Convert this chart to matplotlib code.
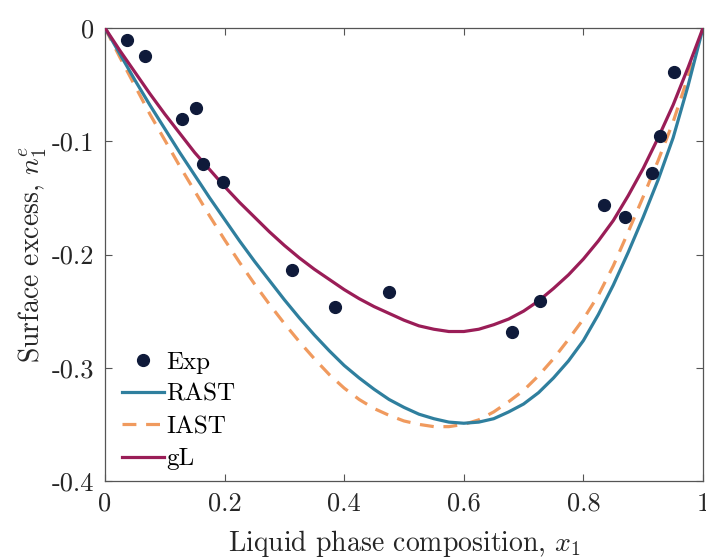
import matplotlib
matplotlib.use("Agg")
import matplotlib.pyplot as plt

##########################
# Data
##########################
exp_x = [0.037, 0.067, 0.128, 0.153, 0.164, 0.197, 0.312, 0.385, 0.475,
         0.680, 0.727, 0.835, 0.870, 0.915, 0.928, 0.952]
exp_y = [-0.011, -0.025, -0.080, -0.071, -0.120, -0.136, -0.214, -0.246, -0.233,
         -0.268, -0.241, -0.156, -0.167, -0.128, -0.095, -0.039]

model_x = [0.0, 0.025, 0.05, 0.075, 0.1, 0.125, 0.15, 0.175, 0.2, 0.225,
           0.25, 0.275, 0.3, 0.325, 0.35, 0.375, 0.4, 0.425, 0.45, 0.475,
           0.5, 0.525, 0.55, 0.575, 0.6, 0.625, 0.65, 0.675, 0.7, 0.725,
           0.75, 0.775, 0.8, 0.825, 0.85, 0.875, 0.9, 0.925, 0.95, 0.975, 1.0]
rast_y = [0.0, -0.023, -0.046, -0.068, -0.089, -0.110, -0.130, -0.150, -0.169, -0.188,
          -0.206, -0.223, -0.240, -0.256, -0.271, -0.285, -0.298, -0.309, -0.319, -0.328,
          -0.335, -0.341, -0.345, -0.348, -0.349, -0.348, -0.345, -0.339, -0.332, -0.322,
          -0.309, -0.294, -0.276, -0.253, -0.227, -0.198, -0.167, -0.134, -0.097, -0.051, 0.0]
iast_y = [0.0, -0.026, -0.051, -0.076, -0.099, -0.122, -0.144, -0.166, -0.187, -0.207,
          -0.226, -0.244, -0.261, -0.277, -0.292, -0.306, -0.318, -0.328, -0.336, -0.342,
          -0.347, -0.350, -0.352, -0.352, -0.350, -0.346, -0.339, -0.330, -0.320, -0.307,
          -0.292, -0.275, -0.257, -0.236, -0.210, -0.180, -0.149, -0.117, -0.083, -0.043, 0.0]
gl_y = [0.0, -0.020, -0.039, -0.058, -0.076, -0.093, -0.110, -0.125, -0.140, -0.154,
        -0.167, -0.180, -0.192, -0.203, -0.213, -0.222, -0.231, -0.239, -0.246, -0.252,
        -0.258, -0.263, -0.266, -0.268, -0.268, -0.266, -0.262, -0.257, -0.250, -0.241,
        -0.230, -0.218, -0.204, -0.188, -0.170, -0.148, -0.124, -0.097, -0.068, -0.035, 0.0]

x_ticks = [0, 0.2, 0.4, 0.6, 0.8, 1]
x_ticklabels = ["0", "0.2", "0.4", "0.6", "0.8", "1"]
y_ticks = [-0.4, -0.3, -0.2, -0.1, 0]
y_ticklabels = ["-0.4", "-0.3", "-0.2", "-0.1", "0"]

# colours
c_exp = "#0f1a3a"
c_rast = "#2f7f9e"
c_iast = "#f09a5e"
c_gl = "#9a1d57"

plt.rcParams["font.family"] = "serif"
plt.rcParams["font.serif"] = ["cmr10"]
plt.rcParams["mathtext.fontset"] = "cm"
plt.rcParams["axes.unicode_minus"] = False
plt.rcParams["lines.scale_dashes"] = False

fig = plt.figure(figsize=(7.06, 5.58), dpi=100)
ax = fig.add_axes([105 / 706, 1 - 481 / 558, 598 / 706, 453 / 558])

ax.plot(exp_x, exp_y, "o", color=c_exp, ms=8.5, label="Exp", zorder=5)
ax.plot(model_x, rast_y, "-", color=c_rast, lw=2.3, label="RAST", zorder=3)
ax.plot(model_x, iast_y, "--", color=c_iast, lw=2.3, dashes=(10, 7), label="IAST", zorder=2)
ax.plot(model_x, gl_y, "-", color=c_gl, lw=2.3, label="gL", zorder=4)

ax.set_xlim(0, 1)
ax.set_ylim(-0.4, 0)
ax.set_xticks(x_ticks)
ax.set_xticklabels(x_ticklabels)
ax.set_yticks(y_ticks)
ax.set_yticklabels(y_ticklabels)
ax.tick_params(direction="in", top=True, right=True, length=5, width=0.8,
               color="#555555", labelsize=19, labelcolor="#262626", pad=8)
for s in ax.spines.values():
    s.set_color("#555555")
    s.set_linewidth(0.9)

ax.set_xlabel("Liquid phase composition, $x_1$", fontsize=20, color="#262626", labelpad=9)
ax.set_ylabel("Surface excess, $n_1^e$", fontsize=20, color="#262626", labelpad=2)

ax.legend(loc="lower left", bbox_to_anchor=(0.0, -0.015), frameon=False, fontsize=18,
          handlelength=1.65, handletextpad=0.1, labelspacing=0.39, borderaxespad=0.3)

plt.savefig("out.png", dpi=100)
